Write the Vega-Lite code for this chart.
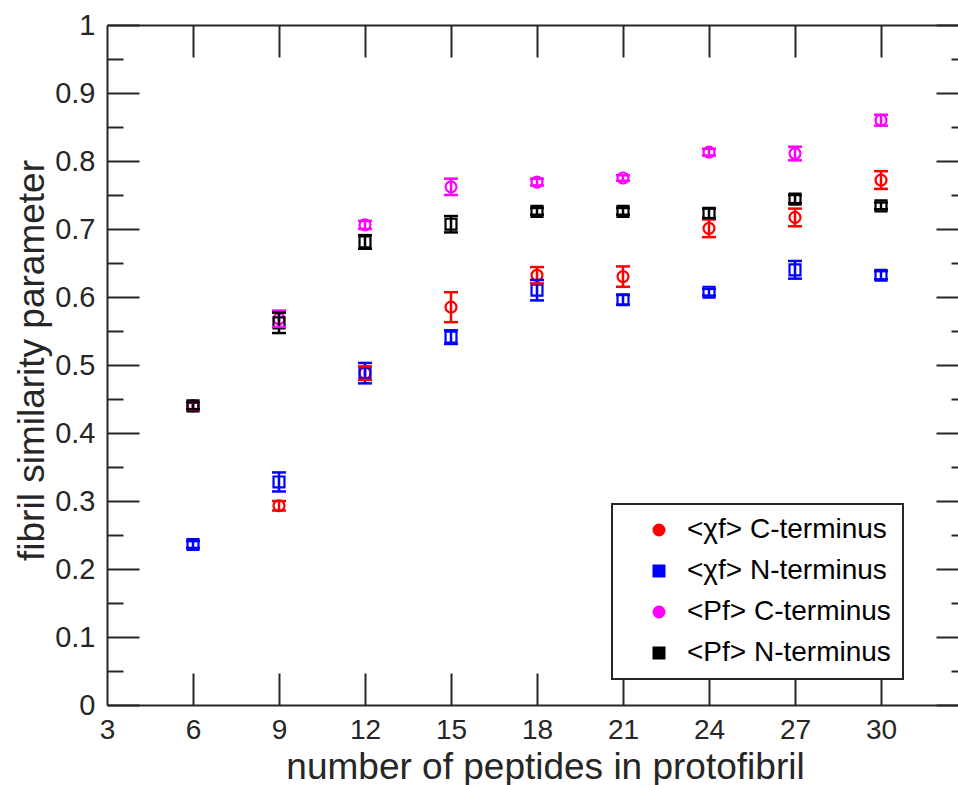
{
  "$schema": "https://vega.github.io/schema/vega-lite/v6.json",
  "width": 851,
  "height": 680,
  "autosize": {"type": "none"},
  "padding": {"left": 107, "top": 25, "right": 0, "bottom": 80},
  "background": "white",
  "data": {
    "values": [
      {"n": 6, "s": "<χf> C-terminus", "v": 0.440, "lo": 0.435, "hi": 0.445},
      {"n": 9, "s": "<χf> C-terminus", "v": 0.293, "lo": 0.286, "hi": 0.300},
      {"n": 12, "s": "<χf> C-terminus", "v": 0.488, "lo": 0.478, "hi": 0.498},
      {"n": 15, "s": "<χf> C-terminus", "v": 0.585, "lo": 0.563, "hi": 0.607},
      {"n": 18, "s": "<χf> C-terminus", "v": 0.632, "lo": 0.620, "hi": 0.644},
      {"n": 21, "s": "<χf> C-terminus", "v": 0.630, "lo": 0.615, "hi": 0.645},
      {"n": 24, "s": "<χf> C-terminus", "v": 0.701, "lo": 0.688, "hi": 0.714},
      {"n": 27, "s": "<χf> C-terminus", "v": 0.717, "lo": 0.704, "hi": 0.730},
      {"n": 30, "s": "<χf> C-terminus", "v": 0.772, "lo": 0.759, "hi": 0.785},
      {"n": 6, "s": "<χf> N-terminus", "v": 0.236, "lo": 0.231, "hi": 0.241},
      {"n": 9, "s": "<χf> N-terminus", "v": 0.328, "lo": 0.314, "hi": 0.342},
      {"n": 12, "s": "<χf> N-terminus", "v": 0.488, "lo": 0.473, "hi": 0.503},
      {"n": 15, "s": "<χf> N-terminus", "v": 0.541, "lo": 0.531, "hi": 0.551},
      {"n": 18, "s": "<χf> N-terminus", "v": 0.610, "lo": 0.595, "hi": 0.625},
      {"n": 21, "s": "<χf> N-terminus", "v": 0.596, "lo": 0.589, "hi": 0.603},
      {"n": 24, "s": "<χf> N-terminus", "v": 0.607, "lo": 0.602, "hi": 0.612},
      {"n": 27, "s": "<χf> N-terminus", "v": 0.640, "lo": 0.627, "hi": 0.653},
      {"n": 30, "s": "<χf> N-terminus", "v": 0.632, "lo": 0.626, "hi": 0.638},
      {"n": 6, "s": "<Pf> C-terminus", "v": 0.440, "lo": 0.435, "hi": 0.445},
      {"n": 9, "s": "<Pf> C-terminus", "v": 0.568, "lo": 0.556, "hi": 0.580},
      {"n": 12, "s": "<Pf> C-terminus", "v": 0.706, "lo": 0.700, "hi": 0.712},
      {"n": 15, "s": "<Pf> C-terminus", "v": 0.762, "lo": 0.750, "hi": 0.774},
      {"n": 18, "s": "<Pf> C-terminus", "v": 0.769, "lo": 0.764, "hi": 0.774},
      {"n": 21, "s": "<Pf> C-terminus", "v": 0.775, "lo": 0.771, "hi": 0.779},
      {"n": 24, "s": "<Pf> C-terminus", "v": 0.813, "lo": 0.808, "hi": 0.818},
      {"n": 27, "s": "<Pf> C-terminus", "v": 0.811, "lo": 0.801, "hi": 0.821},
      {"n": 30, "s": "<Pf> C-terminus", "v": 0.860, "lo": 0.852, "hi": 0.868},
      {"n": 6, "s": "<Pf> N-terminus", "v": 0.440, "lo": 0.435, "hi": 0.445},
      {"n": 9, "s": "<Pf> N-terminus", "v": 0.562, "lo": 0.547, "hi": 0.577},
      {"n": 12, "s": "<Pf> N-terminus", "v": 0.681, "lo": 0.671, "hi": 0.691},
      {"n": 15, "s": "<Pf> N-terminus", "v": 0.707, "lo": 0.695, "hi": 0.719},
      {"n": 18, "s": "<Pf> N-terminus", "v": 0.726, "lo": 0.721, "hi": 0.731},
      {"n": 21, "s": "<Pf> N-terminus", "v": 0.726, "lo": 0.721, "hi": 0.731},
      {"n": 24, "s": "<Pf> N-terminus", "v": 0.723, "lo": 0.716, "hi": 0.730},
      {"n": 27, "s": "<Pf> N-terminus", "v": 0.744, "lo": 0.738, "hi": 0.750},
      {"n": 30, "s": "<Pf> N-terminus", "v": 0.734, "lo": 0.729, "hi": 0.739}
    ]
  },
  "resolve": {"axis": {"x": "independent", "y": "independent"}},
  "layer": [
    {
      "mark": {"type": "point", "filled": false, "strokeWidth": 2.2, "size": 120, "opacity": 1},
      "encoding": {
        "x": {"field": "n", "type": "quantitative", "scale": {"domain": [3, 32.686], "nice": false, "zero": false},
          "axis": {"orient": "bottom", "values": [3, 6, 9, 12, 15, 18, 21, 24, 27, 30], "ticks": false, "domain": true, "labelPadding": 11, "labelFontSize": 28, "labelFlush": false, "labelOverlap": false,
            "title": "number of peptides in protofibril", "titleFontSize": 37, "titleX": 438, "titleY": 73, "titleBaseline": "alphabetic", "titleAlign": "center"}},
        "y": {"field": "v", "type": "quantitative", "scale": {"domain": [0, 1], "nice": false, "zero": false},
          "axis": {"orient": "left", "values": [0, 0.1, 0.2, 0.3, 0.4, 0.5, 0.6, 0.7, 0.8, 0.9, 1], "format": "~g", "ticks": false, "domain": true, "labelPadding": 12, "labelFontSize": 29, "labelFlush": false, "labelOverlap": false,
            "title": "fibril similarity parameter", "titleFontSize": 37, "titleX": -64, "titleY": 335, "titleAngle": -90, "titleBaseline": "alphabetic", "titleAlign": "center"}},
        "color": {"field": "s", "type": "nominal", "scale": {"domain": ["<χf> C-terminus", "<χf> N-terminus", "<Pf> C-terminus", "<Pf> N-terminus"], "range": ["#ff0000", "#0000ff", "#ff00ff", "#000000"]},
          "legend": {"title": null, "orient": "none", "legendX": 505, "legendY": 479}},
        "shape": {"field": "s", "type": "nominal", "scale": {"domain": ["<χf> C-terminus", "<χf> N-terminus", "<Pf> C-terminus", "<Pf> N-terminus"], "range": ["circle", "square", "circle", "square"]},
          "legend": {"title": null, "orient": "none", "legendX": 505, "legendY": 479}}
      }
    },
    {
      "mark": {"type": "rule", "strokeWidth": 2.5, "opacity": 1},
      "encoding": {
        "x": {"field": "n", "type": "quantitative", "scale": {"domain": [3, 32.686], "nice": false, "zero": false},
          "axis": {"orient": "bottom", "values": [6, 9, 12, 15, 18, 21, 24, 27, 30], "labels": false, "domain": false, "tickSize": -32, "title": null}},
        "y": {"field": "lo", "type": "quantitative", "scale": {"domain": [0, 1], "nice": false, "zero": false},
          "axis": {"orient": "left", "values": [0, 0.1, 0.2, 0.3, 0.4, 0.5, 0.6, 0.7, 0.8, 0.9, 1], "labels": false, "domain": false, "tickSize": -32, "title": null}},
        "y2": {"field": "hi"},
        "stroke": {"field": "s", "type": "nominal", "scale": {"domain": ["<χf> C-terminus", "<χf> N-terminus", "<Pf> C-terminus", "<Pf> N-terminus"], "range": ["#ff0000", "#0000ff", "#ff00ff", "#000000"]}, "legend": null}
      }
    },
    {
      "mark": {"type": "tick", "orient": "horizontal", "size": 14, "thickness": 2.5, "opacity": 1},
      "encoding": {
        "x": {"field": "n", "type": "quantitative", "scale": {"domain": [3, 32.686], "nice": false, "zero": false},
          "axis": {"orient": "top", "values": [6, 9, 12, 15, 18, 21, 24, 27, 30], "labels": false, "domain": true, "tickSize": -32, "title": null}},
        "y": {"field": "hi", "type": "quantitative", "scale": {"domain": [0, 1], "nice": false, "zero": false},
          "axis": {"orient": "left", "values": [0.05, 0.15, 0.25, 0.35, 0.45, 0.55, 0.65, 0.75, 0.85, 0.95], "labels": false, "domain": false, "tickSize": -16, "title": null}},
        "fill": {"field": "s", "type": "nominal", "scale": {"domain": ["<χf> C-terminus", "<χf> N-terminus", "<Pf> C-terminus", "<Pf> N-terminus"], "range": ["#ff0000", "#0000ff", "#ff00ff", "#000000"]}, "legend": null}
      }
    },
    {
      "mark": {"type": "tick", "orient": "horizontal", "size": 14, "thickness": 2.5, "opacity": 1},
      "encoding": {
        "x": {"field": "n", "type": "quantitative", "scale": {"domain": [3, 32.686], "nice": false, "zero": false}, "axis": null},
        "y": {"field": "lo", "type": "quantitative", "scale": {"domain": [0, 1], "nice": false, "zero": false},
          "axis": {"orient": "right", "values": [0, 0.1, 0.2, 0.3, 0.4, 0.5, 0.6, 0.7, 0.8, 0.9, 1], "labels": false, "domain": false, "tickSize": -22, "title": null}},
        "fill": {"field": "s", "type": "nominal", "legend": null}
      }
    },
    {
      "mark": {"type": "rule", "strokeWidth": 2.5, "opacity": 0},
      "encoding": {
        "x": {"field": "n", "type": "quantitative", "scale": {"domain": [3, 32.686], "nice": false, "zero": false}, "axis": null},
        "y": {"field": "lo", "type": "quantitative", "scale": {"domain": [0, 1], "nice": false, "zero": false},
          "axis": {"orient": "right", "values": [0.05, 0.15, 0.25, 0.35, 0.45, 0.55, 0.65, 0.75, 0.85, 0.95], "labels": false, "domain": false, "tickSize": -7, "title": null}},
        "y2": {"field": "hi"}
      }
    }
  ],
  "config": {
    "view": {"stroke": null},
    "axis": {"grid": false, "domainColor": "#262626", "domainWidth": 2, "tickColor": "#262626", "tickWidth": 2, "labelColor": "#262626", "titleColor": "#262626", "labelFont": "Liberation Sans", "titleFont": "Liberation Sans", "titleFontWeight": "normal"},
    "legend": {"padding": 12, "strokeColor": "#262626", "strokeWidth": 2, "fillColor": "white", "labelFont": "Liberation Sans", "labelFontSize": 28, "labelColor": "#000000", "labelLimit": 600, "symbolSize": 110, "symbolStrokeWidth": 2.5, "symbolOffset": 21, "labelOffset": 14, "rowPadding": 13}
  }
}
